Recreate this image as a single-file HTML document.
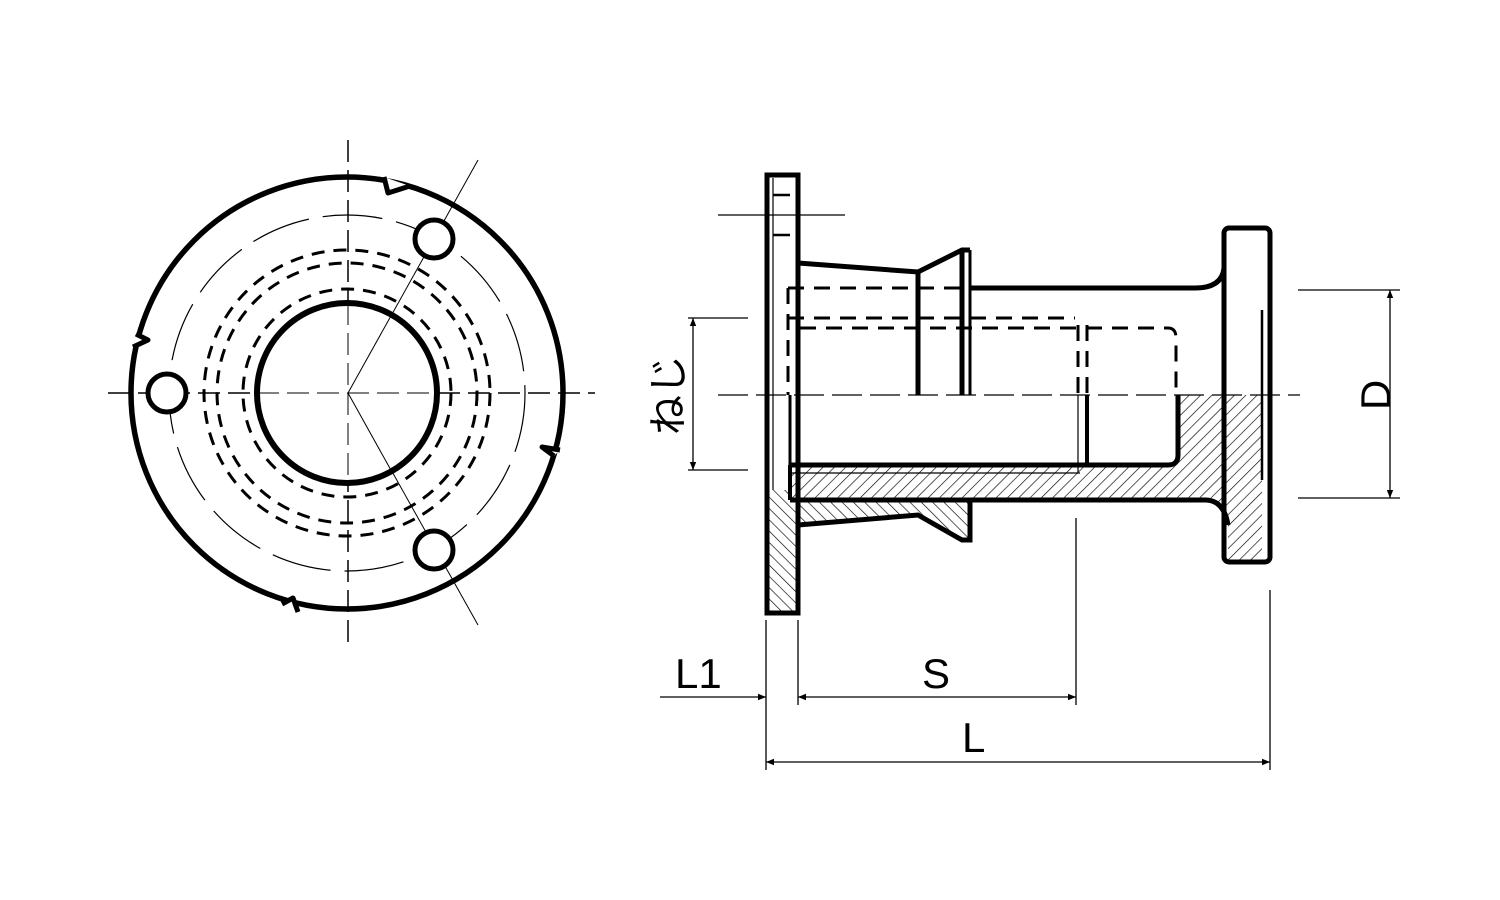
<!DOCTYPE html>
<html><head><meta charset="utf-8"><style>body{margin:0;background:#fff}svg{display:block}</style></head><body>
<svg width="1500" height="900" viewBox="0 0 1500 900" xmlns="http://www.w3.org/2000/svg">
<defs>
<pattern id="h" width="8" height="8" patternUnits="userSpaceOnUse" patternTransform="rotate(45)"><line x1="0" y1="0" x2="0" y2="8" stroke="#000" stroke-width="1.3"/></pattern>
<pattern id="h2" width="8" height="8" patternUnits="userSpaceOnUse" patternTransform="rotate(-45)"><line x1="0" y1="0" x2="0" y2="8" stroke="#000" stroke-width="1.3"/></pattern>
<marker id="a" viewBox="0 0 10 10" refX="10" refY="5" markerWidth="14" markerHeight="8" orient="auto-start-reverse" markerUnits="userSpaceOnUse"><path d="M0,1L10,5L0,9z" fill="#000"/></marker>
</defs>
<g fill="none" stroke="#000">
<!-- left view -->
<line x1="348" y1="140" x2="348" y2="645" stroke-width="1.5" stroke-dasharray="22,8"/>
<line x1="108" y1="393" x2="595" y2="393" stroke-width="1.5" stroke-dasharray="22,8"/>
<line x1="478" y1="160" x2="348" y2="393" stroke-width="1"/>
<line x1="348" y1="393" x2="478" y2="625" stroke-width="1"/>
<circle cx="347" cy="393" r="216" stroke-width="5.5"/>
<circle cx="347" cy="393" r="178" stroke-width="1.2" stroke-dasharray="60,14"/>
<circle cx="347" cy="393" r="143" stroke-width="3" stroke-dasharray="13,9"/>
<circle cx="347" cy="393" r="130" stroke-width="3" stroke-dasharray="13,9"/>
<circle cx="347" cy="393" r="104" stroke-width="3" stroke-dasharray="13,9"/>
<circle cx="347" cy="393" r="90" stroke-width="6" fill="#fff"/>
<line x1="348" y1="303" x2="348" y2="483" stroke-width="1" stroke-dasharray="22,8"/>
<line x1="257" y1="393" x2="437" y2="393" stroke-width="1" stroke-dasharray="22,8"/>
<line x1="348" y1="393" x2="392" y2="314" stroke-width="1"/>
<line x1="348" y1="393" x2="392" y2="472" stroke-width="1"/>
<circle cx="434" cy="239" r="19" stroke-width="5" fill="#fff"/>
<circle cx="167" cy="393" r="19" stroke-width="5" fill="#fff"/>
<circle cx="434" cy="550" r="19" stroke-width="5" fill="#fff"/>
<g stroke-width="5" fill="#fff" stroke-linejoin="round">
<path d="M384,177 L388,193 L410,186"/>
<path d="M136,334 L148,340 L133,347"/>
<path d="M560,450 L542,447 L554,456"/>
<path d="M282,604 L293,598 L298,612"/>
</g>
<!-- right view: hatched areas -->
<path d="M790,465 L1175,465 Q1180,460 1180,455 L1180,395 L1262,395 L1262,562 L1228,562 L1228,525 Q1224,500 1205,500 L790,500 Z" fill="url(#h)" stroke="none"/>
<path d="M768,490 L798,490 L798,500 L970,500 L970,540 L962,540 L918,515 L798,525 L798,613 L768,613 Z" fill="url(#h2)" stroke="none"/>
<!-- flanges -->
<rect x="767" y="175" width="31" height="438" stroke-width="5"/>
<line x1="773" y1="178" x2="773" y2="490" stroke-width="1.2"/>
<line x1="773" y1="195" x2="790" y2="195" stroke-width="2.5"/>
<line x1="773" y1="235" x2="790" y2="235" stroke-width="2.5"/>
<rect x="1224" y="228" width="46" height="334" rx="5" stroke-width="5"/>
<line x1="1262" y1="310" x2="1262" y2="480" stroke-width="2.5"/>
<!-- hub -->
<polyline points="798,263 918,272 962,250 970,250" stroke-width="5"/>
<line x1="918" y1="272" x2="918" y2="395" stroke-width="5"/>
<line x1="962" y1="250" x2="962" y2="395" stroke-width="5"/>
<line x1="970" y1="250" x2="970" y2="395" stroke-width="3"/>
<path d="M970,288 L1195,288 Q1222,288 1224,268" stroke-width="5"/>
<polyline points="798,525 918,515 962,540 970,540 970,500" stroke-width="5"/>
<path d="M790,500 L1205,500 Q1224,500 1228,525" stroke-width="5"/>
<path d="M790,465 L1168,465 Q1178,465 1178,455 L1178,395" stroke-width="5"/>
<line x1="790" y1="465" x2="790" y2="500" stroke-width="4"/>
<line x1="790" y1="473" x2="1080" y2="473" stroke-width="1.2"/>
<line x1="1087" y1="395" x2="1087" y2="465" stroke-width="4"/>
<line x1="1078" y1="395" x2="1078" y2="473" stroke-width="1.2"/>
<line x1="790" y1="395" x2="790" y2="465" stroke-width="3"/>
<!-- hidden lines -->
<g stroke-width="3" stroke-dasharray="16,10">
<line x1="788" y1="288" x2="965" y2="288"/>
<line x1="788" y1="318" x2="1075" y2="318"/>
<path d="M800,328 L1168,328 Q1176,328 1176,338 L1176,395"/>
<line x1="788" y1="288" x2="788" y2="395"/>
<line x1="1087" y1="325" x2="1087" y2="395"/>
<line x1="1078" y1="325" x2="1078" y2="395"/>
</g>
<!-- centerline -->
<line x1="718" y1="395" x2="1300" y2="395" stroke-width="1.3" stroke-dasharray="30,8"/>
<!-- dimensions -->
<g stroke-width="1.3">
<line x1="718" y1="215" x2="845" y2="215"/>
<line x1="688" y1="318" x2="748" y2="318"/>
<line x1="688" y1="470" x2="748" y2="470"/>
<line x1="693" y1="318" x2="693" y2="470" marker-start="url(#a)" marker-end="url(#a)"/>
<line x1="1298" y1="290" x2="1400" y2="290"/>
<line x1="1298" y1="498" x2="1400" y2="498"/>
<line x1="1390" y1="290" x2="1390" y2="498" marker-start="url(#a)" marker-end="url(#a)"/>
<line x1="766" y1="620" x2="766" y2="770"/>
<line x1="798" y1="620" x2="798" y2="705"/>
<line x1="1076" y1="518" x2="1076" y2="705"/>
<line x1="1270" y1="590" x2="1270" y2="770"/>
<line x1="660" y1="697" x2="766" y2="697" marker-end="url(#a)"/>
<line x1="798" y1="697" x2="1076" y2="697" marker-start="url(#a)" marker-end="url(#a)"/>
<line x1="766" y1="762" x2="1270" y2="762" marker-start="url(#a)" marker-end="url(#a)"/>
</g>
</g>
<g font-family="Liberation Sans, Noto Sans CJK JP, sans-serif" font-size="42" fill="#000">
<text x="675" y="688">L1</text>
<text x="922" y="688">S</text>
<text x="962" y="752">L</text>
<text transform="translate(1390,395) rotate(-90)" x="0" y="0" text-anchor="middle">D</text>
<text transform="translate(682,395) rotate(-90)" text-anchor="middle" font-size="40">ねじ</text>
</g>
</svg>
</body></html>
